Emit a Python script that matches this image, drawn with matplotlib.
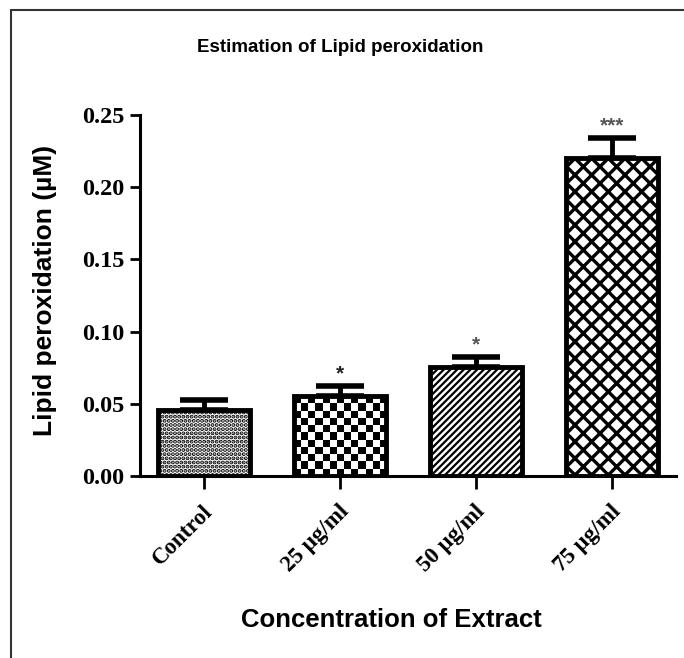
import numpy as np
import matplotlib
matplotlib.use("Agg")
import matplotlib.pyplot as plt
from matplotlib.patches import Rectangle
from matplotlib.transforms import ScaledTranslation

# data
groups = ["Control", "25 µg/ml", "50 µg/ml", "75 µg/ml"]
means = [0.0457, 0.0554, 0.0755, 0.2200]
sem = [0.0070, 0.0070, 0.0070, 0.0140]
stars = ["", "*", "*", "***"]
yticks = [0.00, 0.05, 0.10, 0.15, 0.20, 0.25]

hatches = ["....", None, "/////", "xx"]
hatch_lw = [2.0, 1.0, 1.6, 2.4]
faces = ["white", "none", "white", "white"]
star_colors = ["black", "#222222", "#555555", "#555555"]

fig = plt.figure(figsize=(6.84, 6.58), dpi=100)
ax = fig.add_axes([140 / 684, 1 - 476 / 658, 536 / 684, 361 / 658])

x = np.arange(len(groups))
bars = []
for i in range(len(groups)):
    with plt.rc_context({"hatch.linewidth": hatch_lw[i]}):
        b = ax.bar(x[i], means[i], width=0.68, color=faces[i], edgecolor="black",
                   linewidth=3.5, hatch=hatches[i], zorder=2)[0]
    if hasattr(b, "set_hatch_linewidth"):
        b.set_hatch_linewidth(hatch_lw[i])
    bars.append(b)
    ax.errorbar(x[i], means[i], yerr=[[0], [sem[i]]], fmt="none", ecolor="black",
                elinewidth=3.5, capsize=17, capthick=4, zorder=1)
    if stars[i]:
        ax.text(x[i], means[i] + sem[i] + 0.002, stars[i], ha="center", va="bottom",
                fontsize=15, fontweight="bold", color=star_colors[i],
                family="Liberation Sans")

ax.set_xlim(-0.47, 3.47)
ax.set_ylim(0, 0.25)

# checkerboard texture for the 25 µg/ml bar
b = bars[1]
nx, ny = 13, 11
checker = (np.add.outer(np.arange(ny), np.arange(nx)) % 2).astype(float)
im = ax.imshow(checker, cmap="gray", vmin=0, vmax=1, interpolation="nearest",
               extent=[b.get_x(), b.get_x() + b.get_width(), 0, b.get_height()],
               aspect="auto", zorder=1.5)
im.set_clip_path(b)

ax.spines["top"].set_visible(False)
ax.spines["right"].set_visible(False)
ax.spines["left"].set_linewidth(2.2)
ax.spines["bottom"].set_linewidth(2.2)

ax.tick_params(axis="y", length=7, width=2, pad=4)
ax.tick_params(axis="x", length=9, width=2, pad=9)
ax.set_yticks(yticks)
ax.set_yticklabels([f"{v:.2f}" for v in yticks], fontsize=17.5, fontweight="bold",
                   family="Liberation Serif")
ax.set_xticks(x)
ax.set_xticklabels(groups, rotation=45, ha="right", fontsize=16.5, fontweight="bold",
                   family="Liberation Serif")
# nudge the rotated labels a little to the right
shift = ScaledTranslation(13 / 100, 0, fig.dpi_scale_trans)
for lab in ax.get_xticklabels():
    lab.set_transform(lab.get_transform() + shift)

fig.text(45 / 684, 1 - 290 / 658, "Lipid peroxidation (µM)", rotation=90,
         ha="center", va="center", fontsize=19, fontweight="bold",
         family="Liberation Sans")
fig.text(340 / 684, 1 - 48 / 658, "Estimation of Lipid peroxidation", ha="center",
         va="center", fontsize=13.5, fontweight="bold", family="Liberation Sans")
fig.text(391 / 684, 1 - 620 / 658, "Concentration of Extract", ha="center",
         va="center", fontsize=18.5, fontweight="bold", family="Liberation Sans")

# outer frame (left and top edges visible)
fig.patches.append(Rectangle((11 / 684, -0.05), 1.2, 1 - 10 / 658 + 0.05,
                             transform=fig.transFigure, fill=False,
                             edgecolor="#333333", linewidth=1.5))

fig.savefig("out.png", dpi=100)
